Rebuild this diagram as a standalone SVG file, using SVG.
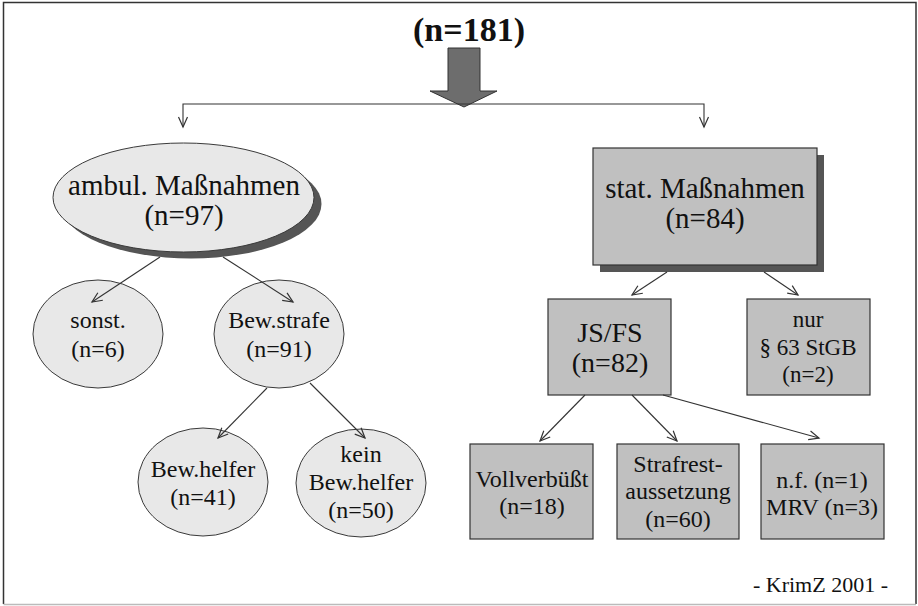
<svg xmlns="http://www.w3.org/2000/svg" width="918" height="606" viewBox="0 0 918 606">
<defs>
<style>
text{font-family:"Liberation Serif","Times New Roman",serif;fill:#111;text-anchor:middle}
.big{font-size:29px}
.mid{font-size:24px}
.sm{font-size:23px}
.ell{fill:#e8e8e8;stroke:#3a3a3a;stroke-width:1}
.box{fill:#c0c0c0;stroke:#333;stroke-width:1.2}
.shadow{fill:#555;stroke:none}
.con{fill:none;stroke:#333;stroke-width:1.1}
</style>
<marker id="ah" markerUnits="userSpaceOnUse" markerWidth="14" markerHeight="14" viewBox="-12 -7 14 14" refX="0" refY="0" orient="auto">
<path d="M-10,-4.5 L0,0 L-10,4.5" fill="none" stroke="#333" stroke-width="1.2"/>
</marker>
</defs>
<rect x="0" y="0" width="918" height="606" fill="#fff"/>
<path d="M3.5,604 V2.5 H916 V604" fill="none" stroke="#333" stroke-width="1.5"/>
<line x1="3.5" y1="604.5" x2="916" y2="604.5" stroke="#bbb" stroke-width="1.5"/>

<g id="title">
<text x="469" y="41" style="font-size:34px;font-weight:bold">(n=181)</text>
<path d="M448,48 H480 V91 H497 L464,107 L430,91 H448 Z" fill="#6d6d6d" stroke="#333" stroke-width="1"/>
</g>

<g id="ambul">
<ellipse class="shadow" cx="191" cy="204" rx="130.5" ry="54.5"/>
<ellipse class="ell" cx="183.5" cy="197.5" rx="130.5" ry="54.5"/>
<text class="big" x="184" y="195">ambul. Maßnahmen</text>
<text class="big" x="184" y="225">(n=97)</text>
</g>

<g id="stat">
<rect class="shadow" x="600" y="155" width="224" height="117"/>
<rect class="box" x="593" y="148" width="224" height="117"/>
<text class="big" x="705" y="198">stat. Maßnahmen</text>
<text class="big" x="705" y="228">(n=84)</text>
</g>

<g id="sonst">
<ellipse class="ell" cx="98" cy="334" rx="65" ry="54"/>
<text class="mid" x="98" y="328">sonst.</text>
<text class="mid" x="98" y="357">(n=6)</text>
</g>

<g id="bewstrafe">
<ellipse class="ell" cx="279" cy="334" rx="65" ry="54"/>
<text class="mid" x="279" y="328">Bew.strafe</text>
<text class="mid" x="279" y="357">(n=91)</text>
</g>

<g id="bewhelfer">
<ellipse class="ell" cx="203" cy="482" rx="65" ry="54"/>
<text class="mid" x="203" y="477">Bew.helfer</text>
<text class="mid" x="203" y="505">(n=41)</text>
</g>

<g id="keinbewhelfer">
<ellipse class="ell" cx="361" cy="483" rx="65" ry="54"/>
<text class="mid" x="361" y="462">kein</text>
<text class="mid" x="361" y="490">Bew.helfer</text>
<text class="mid" x="361" y="518">(n=50)</text>
</g>

<g id="jsfs">
<rect class="box" x="548" y="299" width="123" height="96"/>
<text x="610" y="342" style="font-size:28px">JS/FS</text>
<text x="610" y="372" style="font-size:28px">(n=82)</text>
</g>

<g id="nur">
<rect class="box" x="747" y="299" width="123" height="96"/>
<text class="sm" x="808" y="327">nur</text>
<text class="sm" x="808" y="355">§ 63 StGB</text>
<text class="sm" x="808" y="382">(n=2)</text>
</g>

<g id="vollverbuesst">
<rect class="box" x="470" y="444" width="123" height="95"/>
<text class="mid" x="532" y="487">Vollverbüßt</text>
<text class="mid" x="532" y="514">(n=18)</text>
</g>

<g id="strafrest">
<rect class="box" x="617" y="444" width="122" height="95"/>
<text class="mid" x="678" y="472">Strafrest-</text>
<text class="mid" x="678" y="499">aussetzung</text>
<text class="mid" x="678" y="527">(n=60)</text>
</g>

<g id="nf">
<rect class="box" x="761" y="444" width="123" height="95"/>
<text class="mid" x="822" y="488">n.f. (n=1)</text>
<text class="mid" x="822" y="515">MRV (n=3)</text>
</g>

<g id="connectors">
<path class="con" d="M464,104 H183 V127" marker-end="url(#ah)"/>
<path class="con" d="M464,104 H704 V127" marker-end="url(#ah)"/>
<path class="con" d="M160,257 L92,302" marker-end="url(#ah)"/>
<path class="con" d="M223,257 L293,302" marker-end="url(#ah)"/>
<path class="con" d="M267,388 L218,438" marker-end="url(#ah)"/>
<path class="con" d="M310,383 L365,438" marker-end="url(#ah)"/>
<path class="con" d="M667,272 L632,295" marker-end="url(#ah)"/>
<path class="con" d="M764,272 L798,295" marker-end="url(#ah)"/>
<path class="con" d="M585,395 L540,441" marker-end="url(#ah)"/>
<path class="con" d="M632,395 L677,441" marker-end="url(#ah)"/>
<path class="con" d="M663,395 L819,438" marker-end="url(#ah)"/>
</g>

<text x="888" y="592" style="font-size:22px;text-anchor:end">- KrimZ 2001 -</text>
</svg>
